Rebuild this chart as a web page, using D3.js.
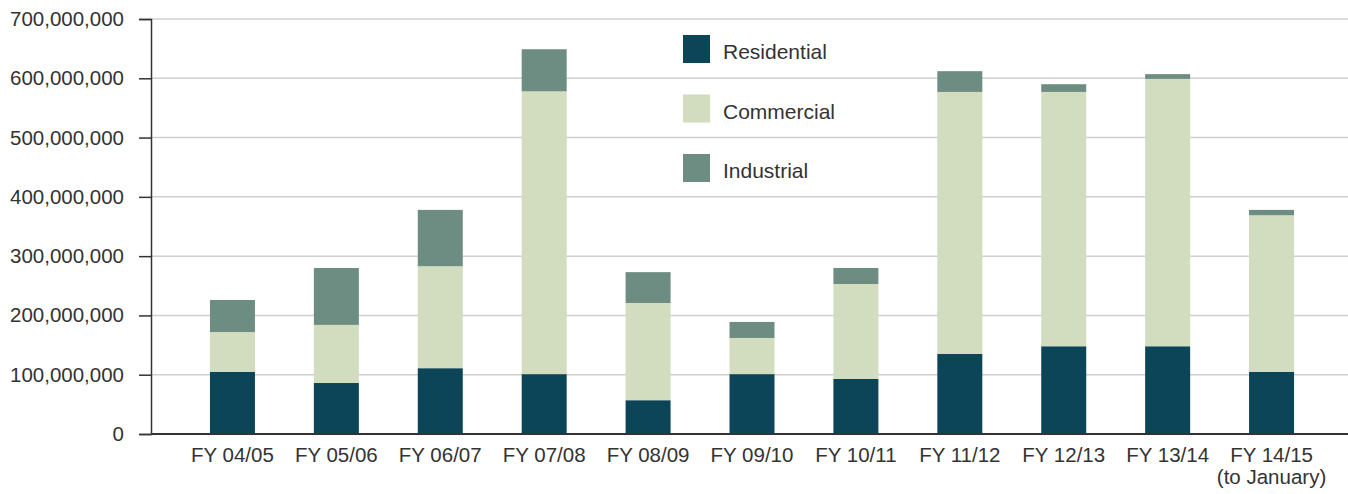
<!DOCTYPE html>
<html>
<head>
<meta charset="utf-8">
<script src="https://cdn.jsdelivr.net/npm/d3@7"></script>
<style>
    body { margin: 0; background: #fff; }
    text { font-family: "Liberation Sans", Arial, sans-serif; fill: #333; }
</style>
</head>
<body>
<div id="chart"></div>
<script>
const years = ["FY 04/05", "FY 05/06", "FY 06/07", "FY 07/08", "FY 08/09", "FY 09/10",
               "FY 10/11", "FY 11/12", "FY 12/13", "FY 13/14", "FY 14/15\n(to January)"];
const residential = [105e6, 86e6, 111e6, 101e6, 57e6, 101e6, 93e6, 135e6, 148e6, 148e6, 105e6];
const commercial = [67e6, 98e6, 172e6, 477e6, 164e6, 61e6, 160e6, 442e6, 429e6, 451e6, 264e6];
const industrial = [54e6, 96e6, 95e6, 71e6, 52e6, 27e6, 27e6, 35e6, 13e6, 8e6, 9e6];
const seriesNames = ["Residential", "Commercial", "Industrial"];
const seriesColors = ["#0d4558", "#d2dcbf", "#6d8c82"];
const yTicks = [0, 100e6, 200e6, 300e6, 400e6, 500e6, 600e6, 700e6];

const width = 1348, height = 494;
const svg = d3.select("#chart").append("svg")
    .attr("width", width)
    .attr("height", height);

const rows = years.map((y, i) => ({
    year: y,
    Residential: residential[i],
    Commercial: commercial[i],
    Industrial: industrial[i]
}));
const stacked = d3.stack().keys(seriesNames)(rows);

const x = d3.scaleBand()
    .domain(years)
    .range([158, 1346])
    .paddingInner(0.567)
    .paddingOuter(0.5);

const y = d3.scaleLinear()
    .domain([0, 700e6])
    .range([434, 19]);

// gridlines
svg.append("g")
    .selectAll("line")
    .data(yTicks.slice(1))
    .join("line")
        .attr("x1", 151)
        .attr("x2", width)
        .attr("y1", d => y(d))
        .attr("y2", d => y(d))
        .attr("stroke", "#cfcfcf")
        .attr("stroke-width", 1.5);

// bars
svg.append("g")
    .selectAll("g")
    .data(stacked)
    .join("g")
        .attr("fill", (d, i) => seriesColors[i])
    .selectAll("rect")
    .data(d => d)
    .join("rect")
        .attr("x", d => x(d.data.year))
        .attr("width", x.bandwidth())
        .attr("y", d => y(d[1]))
        .attr("height", d => y(d[0]) - y(d[1]));

// y axis
const yAxis = svg.append("g")
    .attr("transform", "translate(151,0)")
    .call(d3.axisLeft(y).tickValues(yTicks).tickSize(12).tickPadding(15)
        .tickFormat(d3.format(",")));
yAxis.select(".domain").attr("stroke", "#333").attr("stroke-width", 1.5);
yAxis.selectAll(".tick line").attr("stroke", "#333").attr("stroke-width", 1.5);
yAxis.selectAll(".tick text")
    .attr("font-size", 20.5)
    .attr("font-family", null)
    .attr("fill", "#333");

// x axis
svg.append("line")
    .attr("x1", 151)
    .attr("x2", width)
    .attr("y1", y(0))
    .attr("y2", y(0))
    .attr("stroke", "#333")
    .attr("stroke-width", 2);

const xLabels = svg.append("g")
    .selectAll("text")
    .data(years)
    .join("text")
        .attr("x", d => x(d) + x.bandwidth() / 2)
        .attr("y", 462)
        .attr("text-anchor", "middle")
        .attr("font-size", 20.5);
xLabels.selectAll("tspan")
    .data(d => d.split("\n"))
    .join("tspan")
        .attr("x", function() { return d3.select(this.parentNode).attr("x"); })
        .attr("dy", (d, i) => i === 0 ? 0 : 22)
        .text(d => d);

// legend
const legend = svg.append("g")
    .selectAll("g")
    .data(seriesNames)
    .join("g")
        .attr("transform", (d, i) => `translate(683,${35 + i * 59.5})`);
legend.append("rect")
    .attr("width", 27)
    .attr("height", 28)
    .attr("fill", (d, i) => seriesColors[i]);
legend.append("text")
    .attr("x", 40)
    .attr("y", 24)
    .attr("font-size", 21)
    .text(d => d);
</script>
</body>
</html>
